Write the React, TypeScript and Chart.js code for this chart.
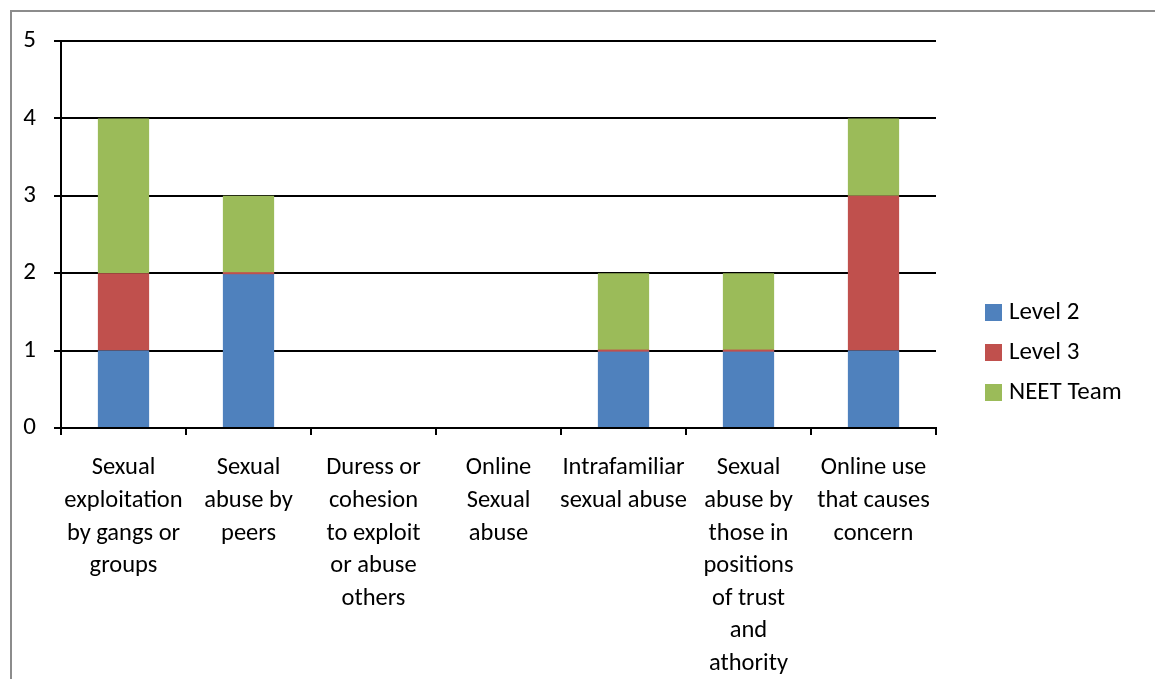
import React, { useEffect, useRef } from "react";
import { Chart, registerables } from "chart.js";

Chart.register(...registerables);

const categories: string[][] = [
  ["Sexual", "exploitation", "by gangs or", "groups"],
  ["Sexual", "abuse by", "peers"],
  ["Duress or", "cohesion", "to exploit", "or abuse", "others"],
  ["Online", "Sexual", "abuse"],
  ["Intrafamiliar", "sexual abuse"],
  ["Sexual", "abuse by", "those in", "positions", "of trust", "and", "athority"],
  ["Online use", "that causes", "concern"],
];

const level2: (number | null)[] = [1, 2, 0, 0, 1, 1, 1];
const level3: (number | null)[] = [1, 0, null, null, 0, 0, 2];
const neetTeam: (number | null)[] = [2, 1, 0, 0, 1, 1, 1];

const seriesNames = ["Level 2", "Level 3", "NEET Team"];
const seriesColors = ["#4F81BD", "#C0504D", "#9BBB59"];

const FONT = "Carlito, Lato, 'Liberation Sans', sans-serif";

const CHART_LEFT = 61;
const CHART_TOP = 41;
const CHART_RIGHT = 936;
const CHART_BOTTOM = 428;
const W = 1155;
const H = 679;

const framePlugin = {
  id: "frame",
  beforeDraw(chart: any) {
    const ctx = chart.ctx;
    ctx.save();
    ctx.fillStyle = "#ffffff";
    ctx.fillRect(0, 0, chart.width, chart.height);
    ctx.strokeStyle = "#8c8c8c";
    ctx.lineWidth = 2;
    ctx.beginPath();
    ctx.moveTo(11, chart.height + 5);
    ctx.lineTo(11, 11);
    ctx.lineTo(chart.width + 5, 11);
    ctx.stroke();
    ctx.restore();
  },
  afterDatasetsDraw(chart: any) {
    // Excel draws zero-height stacked segments as a thin line in the series colour
    const ctx = chart.ctx;
    ctx.save();
    chart.data.datasets.forEach((ds: any, di: number) => {
      if (di === 0) return;
      const meta = chart.getDatasetMeta(di);
      ds.data.forEach((v: number | null, i: number) => {
        if (v !== 0) return;
        const el: any = meta.data[i];
        if (!el || el.base === chart.scales.y.getPixelForValue(0)) return;
        ctx.fillStyle = ds.backgroundColor;
        ctx.fillRect(el.x - el.width / 2, el.y - 1, el.width, 2);
      });
    });
    ctx.restore();
  },
  afterDraw(chart: any) {
    const ctx = chart.ctx;
    ctx.save();
    ctx.font = `25px ${FONT}`;
    ctx.textBaseline = "middle";
    ctx.textAlign = "left";
    chart.data.datasets.forEach((ds: any, i: number) => {
      const cy = 312 + i * 40;
      ctx.fillStyle = ds.backgroundColor;
      ctx.fillRect(985, cy - 8, 17, 17);
      ctx.fillStyle = "#000000";
      ctx.fillText(ds.label, 1009, cy + 1);
    });
    ctx.restore();
  },
};

export default function App() {
  const ref = useRef<HTMLCanvasElement | null>(null);

  useEffect(() => {
    if (!ref.current) return;
    const datasets = [level2, level3, neetTeam].map((d, i) => ({
      label: seriesNames[i],
      data: d,
      backgroundColor: seriesColors[i],
      borderWidth: 0,
      barPercentage: 0.41,
      categoryPercentage: 1,
    }));
    const chart = new Chart(ref.current, {
      type: "bar",
      data: { labels: categories, datasets },
      plugins: [framePlugin],
      options: {
        animation: false,
        responsive: false,
        maintainAspectRatio: false,
        layout: {
          padding: { left: 0, top: CHART_TOP, right: W - CHART_RIGHT, bottom: 0 },
        },
        plugins: {
          legend: { display: false },
          tooltip: { enabled: false },
        },
        scales: {
          x: {
            stacked: true,
            grid: {
              display: true,
              drawOnChartArea: false,
              drawTicks: true,
              tickLength: 7,
              color: "#000000",
              lineWidth: 2,
              offset: true,
            },
            border: { display: true, color: "#000000", width: 2 },
            ticks: {
              color: "#000000",
              font: { family: FONT, size: 24.5, lineHeight: 1.33 },
              padding: 17,
              maxRotation: 0,
              minRotation: 0,
              autoSkip: false,
            },
            afterFit(scale: any) {
              scale.height = H - CHART_BOTTOM;
            },
          },
          y: {
            stacked: true,
            min: 0,
            max: 5,
            grid: {
              color: "#000000",
              lineWidth: 2,
              drawTicks: true,
              tickLength: 7,
            },
            border: { display: true, color: "#000000", width: 2 },
            ticks: {
              stepSize: 1,
              color: "#000000",
              font: { family: FONT, size: 25 },
              padding: 18,
            },
            afterFit(scale: any) {
              scale.width = CHART_LEFT;
            },
          },
        },
      },
    });
    return () => chart.destroy();
  }, []);

  return (
    <canvas
      ref={ref}
      width={W}
      height={H}
      style={{ position: "absolute", left: 0, top: 0, width: W, height: H }}
    />
  );
}
